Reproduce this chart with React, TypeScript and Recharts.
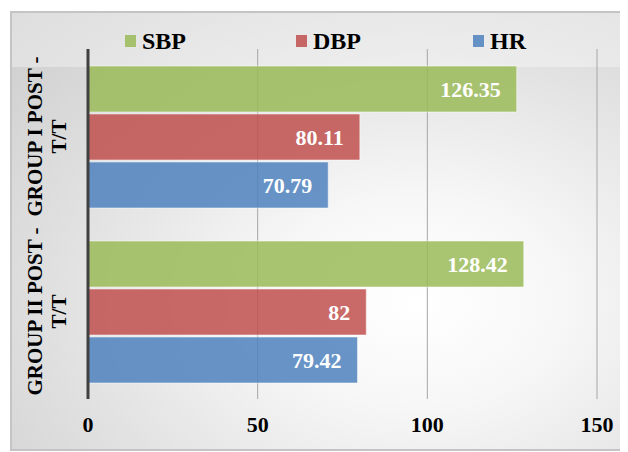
import React from "react";
import { BarChart, Bar, XAxis, YAxis, CartesianGrid, LabelList } from "recharts";

const categories = ["GROUP I POST - T/T", "GROUP II POST - T/T"];
const sbp = [126.35, 128.42];
const dbp = [80.11, 82];
const hr = [70.79, 79.42];
const xTicks = [0, 50, 100, 150];

const series = [
  { key: "SBP", values: sbp, color: "#9BBB59" },
  { key: "DBP", values: dbp, color: "#C0504D" },
  { key: "HR", values: hr, color: "#4F81BD" },
];

const data = categories.map((name, i) => {
  const row: Record<string, string | number> = { name };
  series.forEach((s) => (row[s.key] = s.values[i]));
  return row;
});

const FONT = "Liberation Serif, Times New Roman, serif";
const W = 616;
const H = 440;

// rotated two-line category label
const CategoryTick = (props: any) => {
  const { y, payload } = props;
  const text: string = payload.value;
  const cut = text.indexOf(" - ");
  const lines = cut >= 0 ? [text.slice(0, cut + 2), text.slice(cut + 3)] : [text];
  const baselines = [32, 56];
  return (
    <g>
      {lines.map((line, i) => (
        <text
          key={i}
          transform={`translate(${baselines[i]},${y}) rotate(-90)`}
          textAnchor="middle"
          style={{ fontFamily: FONT, fontWeight: "bold", fontSize: 21 }}
          fill="#000"
        >
          {line}
        </text>
      ))}
    </g>
  );
};

const ValueTick = (props: any) => {
  const { x, payload } = props;
  return (
    <text x={x} y={421} textAnchor="middle" style={{ fontFamily: FONT, fontWeight: "bold", fontSize: 22 }} fill="#000">
      {payload.value}
    </text>
  );
};

const legendX = [115, 286, 463];

const LegendBlock = () => (
  <svg width={W} height={56} style={{ position: "absolute", left: 0, top: 0, display: "block" }}>
    {series.map((s, i) => (
      <g key={s.key}>
        <rect x={legendX[i]} y={24} width={11} height={12} fill={s.color} fillOpacity={0.85} />
        <text x={legendX[i] + 17} y={38} style={{ fontFamily: FONT, fontWeight: "bold", fontSize: 24 }} fill="#000">
          {s.key}
        </text>
      </g>
    ))}
  </svg>
);

export default function App() {
  return (
    <div
      style={{
        position: "relative",
        marginLeft: 2,
        marginTop: 3,
        width: W,
        height: H,
        background: "radial-gradient(ellipse at 66% 66%, #ffffff 0%, #f7f7f7 25%, #e2e2e2 60%, #cccccc 100%)",
      }}
    >
      {/* lighter band behind the legend */}
      <div
        style={{
          position: "absolute",
          left: 0,
          top: 0,
          width: W,
          height: 56,
          background: "rgba(255,255,255,0.35)",
        }}
      />
      <div style={{ position: "absolute", left: 0, top: 0 }}>
        <BarChart
          width={W}
          height={H}
          data={data}
          layout="vertical"
          margin={{ top: 38, right: 29, bottom: 0, left: 0 }}
          barSize={46}
          barGap={2}
        >
          <CartesianGrid horizontal={false} stroke="#a6a6a6" />
          <XAxis
            type="number"
            domain={[0, 150]}
            ticks={xTicks}
            axisLine={false}
            tickLine={false}
            height={52}
            tick={<ValueTick />}
            interval={0}
          />
          <YAxis
            type="category"
            dataKey="name"
            width={78}
            tickLine={false}
            axisLine={{ stroke: "#404040", strokeWidth: 3 }}
            tick={<CategoryTick />}
            interval={0}
          />
          {series.map((s) => (
            <Bar
              key={s.key}
              dataKey={s.key}
              fill={s.color}
              fillOpacity={0.85}
              stroke="#ffffff"
              strokeOpacity={0.5}
              strokeWidth={1}
              isAnimationActive={false}
            >
              <LabelList
                dataKey={s.key}
                position="insideRight"
                offset={16}
                fill="#ffffff"
                style={{ fontFamily: FONT, fontWeight: "bold", fontSize: 22 }}
              />
            </Bar>
          ))}
        </BarChart>
      </div>
      <LegendBlock />
      <div
        style={{
          position: "absolute",
          left: 0,
          top: 0,
          width: W,
          height: H,
          boxSizing: "border-box",
          border: "2px solid #c4c4c4",
          pointerEvents: "none",
        }}
      />
    </div>
  );
}
